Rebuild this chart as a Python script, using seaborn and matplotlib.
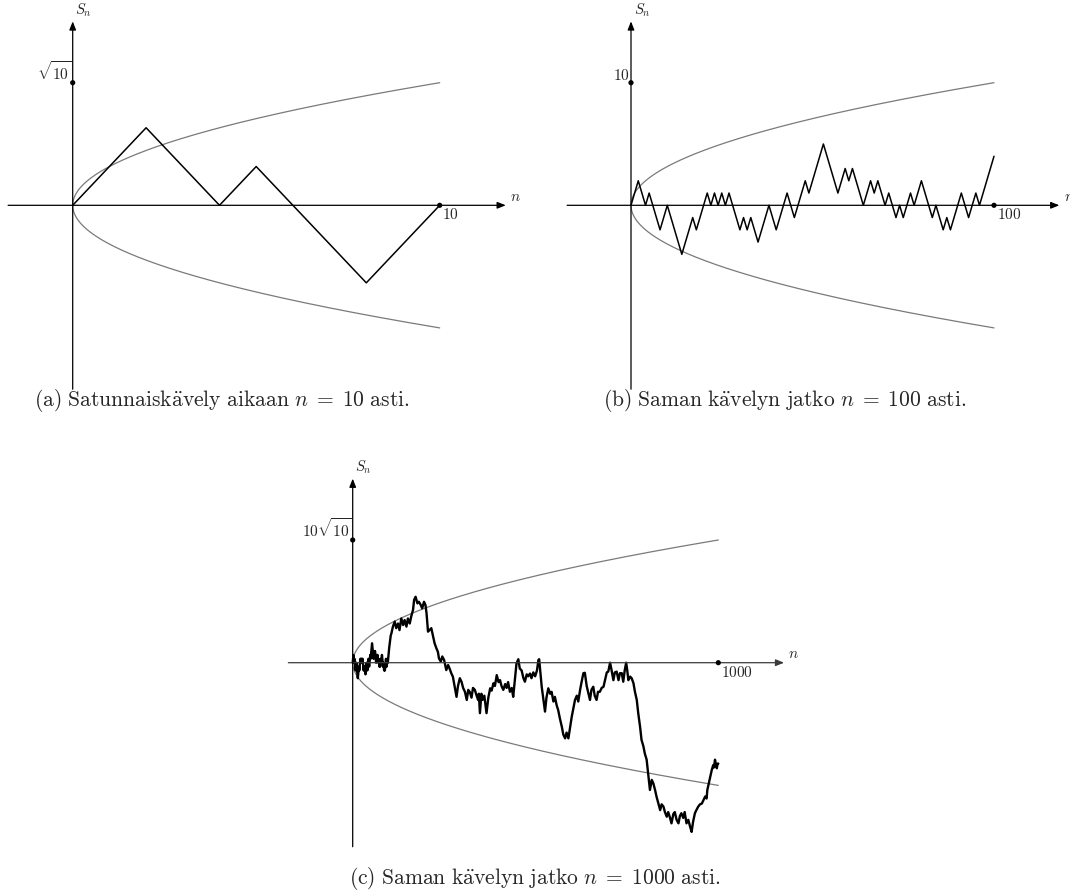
import numpy as np
import matplotlib
matplotlib.use("Agg")
import matplotlib.pyplot as plt
import seaborn as sns

sns.set_theme(style="white")
plt.rcParams["mathtext.fontset"] = "cm"
plt.rcParams["font.family"] = ["DejaVu Serif"]

# ---------------- data ----------------
# first 100 steps of the walk (S_0 .. S_100), panel (a) uses S_0..S_10
walk100 = [0, 1, 2, 1, 0, 1, 0, -1, -2, -1, 0,
           -1, -2, -3, -4, -3, -2, -1, -2, -1, 0,
           1, 0, 1, 0, 1, 0, 1, 0, -1, -2,
           -1, -2, -1, -2, -3, -2, -1, 0, -1, -2,
           -1, 0, 1, 0, -1, 0, 1, 2, 1, 2,
           3, 4, 5, 4, 3, 2, 1, 2, 3, 2,
           3, 2, 1, 0, 1, 2, 1, 2, 1, 0,
           1, 0, -1, 0, -1, 0, 1, 0, 1, 2,
           1, 0, -1, 0, -1, -2, -1, -2, -1, 0,
           1, 0, -1, 0, 1, 0, 1, 2, 3, 4]

# continuation to n = 1000 (n, S_n)
long_n = [104, 106, 110, 115, 119, 124, 128, 133, 138, 142, 147, 151, 156, 160, 165, 168,
          172, 177, 181, 186, 190, 195, 199, 202, 206, 210, 215, 220, 224, 229, 233, 236,
          241, 245, 250, 256, 261, 265, 270, 274, 279, 284, 288, 293, 298, 302, 307, 312,
          316, 320, 325, 329, 334, 339, 343, 345, 348, 352, 355, 360, 366, 371, 376, 380,
          385, 389, 394, 399, 403, 407, 412, 417, 421, 425, 430, 435, 439, 444, 448, 453,
          457, 462, 467, 471, 476, 480, 485, 489, 494, 499, 504, 508, 510, 517, 521, 526,
          530, 535, 540, 544, 549, 553, 558, 562, 567, 572, 576, 581, 585, 590, 594, 599,
          603, 608, 613, 617, 622, 626, 631, 635, 640, 645, 649, 653, 658, 662, 667, 671,
          676, 681, 686, 690, 695, 699, 704, 708, 713, 717, 722, 727, 731, 736, 740, 744,
          748, 751, 754, 759, 763, 768, 772, 777, 781, 786, 790, 795, 799, 804, 809, 813,
          818, 822, 827, 831, 836, 841, 845, 850, 854, 859, 863, 868, 872, 877, 881, 886,
          891, 895, 899, 904, 908, 913, 918, 923, 927, 931, 936, 940, 945, 950, 955, 959,
          964, 968, 970, 975, 979, 982, 986, 988, 991, 994, 996, 998, 1000]
long_s = [7, 7.6, 9.3, 10.6, 8.9, 10.1, 8.4, 11.4, 9.7, 11, 9.3, 11.4, 10.1, 11.9, 13.6, 16.2,
          17, 15.3, 15.7, 14.9, 14, 15.7, 14.9, 12.7, 8, 8.4, 8.9, 6.7, 5, 3.7, 2.8, 1.1,
          0.3, 1.6, 0.7, -1.9, -0.6, -1.5, -2.8, -3.6, -6.2, -8.8, -6, -4, -5, -6.5, -7.5, -9.6,
          -7, -7.5, -9, -6.5, -7, -8.5, -9.6, -8, -13, -8, -9.6, -8.5, -13, -9, -6.6, -7.2,
          -5.3, -6, -3.2, -5, -4.5, -6, -7, -5.5, -6.5, -5, -7.5, -6.5, -8.8, -4, -0.2, 0.9,
          -1.5, -2, -4, -4.9, -3, -3.5, -2.8, -4, -2.5, -3.5, -2, 0.7, 0.9, -6.2, -9, -12.6,
          -9, -6.6, -8, -7.5, -10, -8.8, -11, -12.2, -14.5, -16.5, -18.5, -19.5, -18, -19.5, -17, -14,
          -12, -9.6, -8.5, -10, -7, -5, -2.7, -2.6, -6, -8, -9.6, -7, -6.2, -8.5, -9.6, -7.5,
          -7.5, -6.5, -6.2, -4.5, -2.5, -2.3, 0, -1.9, -4.5, -2.5, -2.3, -4.5, -2.7, -2.7, -4.9, -2,
          0, -2, -4.5, -3.6, -4, -5.3, -7.5, -9.6, -13, -16.5, -19.9, -21.5, -23.4, -25, -29.4, -32.8,
          -30.2, -31, -32.8, -34.5, -36.3, -38, -36.5, -37.1, -38.5, -39.7, -38.5, -40, -41.4, -39, -38.5, -40.5,
          -41.4, -39.5, -38.8, -40, -38.5, -41.4, -40.5, -42.3, -43.6, -41, -38.8, -38, -37.1, -36.5, -36.3, -35.5,
          -34.5, -35, -32.8, -30.7, -29, -27.7, -26.4, -27, -25, -26.5, -27.2, -26, -26]

horizons = [10, 100, 1000]
ytick_values = [np.sqrt(10), 10.0, 10 * np.sqrt(10)]
ytick_labels = [r"$\sqrt{10}$", r"$10$", r"$10\sqrt{10}$"]
xtick_labels = [r"$10$", r"$100$", r"$1000$"]
captions = [r"$\mathrm{(a)\ Satunnaisk\ddot{a}vely\ aikaan\ }n\;=\;10\mathrm{\ asti.}$",
            r"$\mathrm{(b)\ Saman\ k\ddot{a}velyn\ jatko\ }n\;=\;100\mathrm{\ asti.}$",
            r"$\mathrm{(c)\ Saman\ k\ddot{a}velyn\ jatko\ }n\;=\;1000\mathrm{\ asti.}$"]

# ---------------- layout (pixels) ----------------
W, H = 1070, 892
fig = plt.figure(figsize=(W / 100, H / 100), dpi=100)

layout = [
    dict(ox=72.7, oy=205.3, sx=36.7, sy=38.77, box=(0, 5, 540, 395), cap=(222, 401)),
    dict(ox=631.0, oy=205.3, sx=3.63, sy=12.26, box=(545, 5, 525, 395), cap=(785, 401)),
    dict(ox=352.7, oy=662.7, sx=0.3656, sy=3.88, box=(270, 462, 540, 395), cap=(535, 878)),
]

walks = [
    (list(range(11)), walk100[:11]),
    (list(range(101)), walk100),
    (list(range(101)) + long_n, walk100 + long_s),
]

for i, (N, L) in enumerate(zip(horizons, layout)):
    left, top, w, h = L["box"]
    ax = fig.add_axes([left / W, 1 - (top + h) / H, w / W, h / H])
    ax.set_xlim((left - L["ox"]) / L["sx"], (left + w - L["ox"]) / L["sx"])
    ax.set_ylim((L["oy"] - (top + h)) / L["sy"], (L["oy"] - top) / L["sy"])
    ax.set_axis_off()

    rootN = np.sqrt(N)
    # axes with arrows
    axcol = "black" if i < 2 else "#3a3a3a"
    ax.annotate("", xy=(1.18 * N, 0), xytext=(-0.176 * N, 0),
                arrowprops=dict(arrowstyle="-|>,head_length=0.5,head_width=0.2",
                                color=axcol, lw=0.9, shrinkA=0, shrinkB=0, mutation_scale=10))
    ax.annotate("", xy=(0, 1.5 * rootN), xytext=(0, -1.5 * rootN),
                arrowprops=dict(arrowstyle="-|>,head_length=0.5,head_width=0.2",
                                color="black", lw=0.9, shrinkA=0, shrinkB=0, mutation_scale=10))

    # parabola S = +/- sqrt(n)
    s = np.linspace(-rootN, rootN, 600)
    sns.lineplot(x=s ** 2, y=s, ax=ax, sort=False, estimator=None,
                 color="#7a7a7a", lw=0.9)

    # the walk
    xn, ys = walks[i]
    sns.lineplot(x=xn, y=ys, ax=ax, sort=False, estimator=None,
                 color="black", lw=1.1 if i < 2 else 1.7)

    # marked points
    sns.scatterplot(x=[N, 0], y=[0, ytick_values[i]], ax=ax, color="black",
                    s=14, edgecolor="none", zorder=5)

    ax.annotate(ytick_labels[i], xy=(0, ytick_values[i]), xytext=(-1, 0),
                textcoords="offset points", ha="right", va="bottom", fontsize=11)
    ax.annotate(xtick_labels[i], xy=(N, 0), xytext=(2, -1.5),
                textcoords="offset points", ha="left", va="top", fontsize=11)
    ax.annotate(r"$S_n$", xy=(0, 1.5 * rootN), xytext=(2, 2),
                textcoords="offset points", ha="left", va="bottom", fontsize=10.5)
    ax.annotate(r"$n$", xy=(1.18 * N, 0), xytext=(3, 1),
                textcoords="offset points", ha="left", va="bottom", fontsize=11)

    cx, cy = L["cap"]
    fig.text(cx / W, 1 - cy / H, captions[i], ha="center", va="center", fontsize=15.5)

fig.savefig("out.png", dpi=100)
